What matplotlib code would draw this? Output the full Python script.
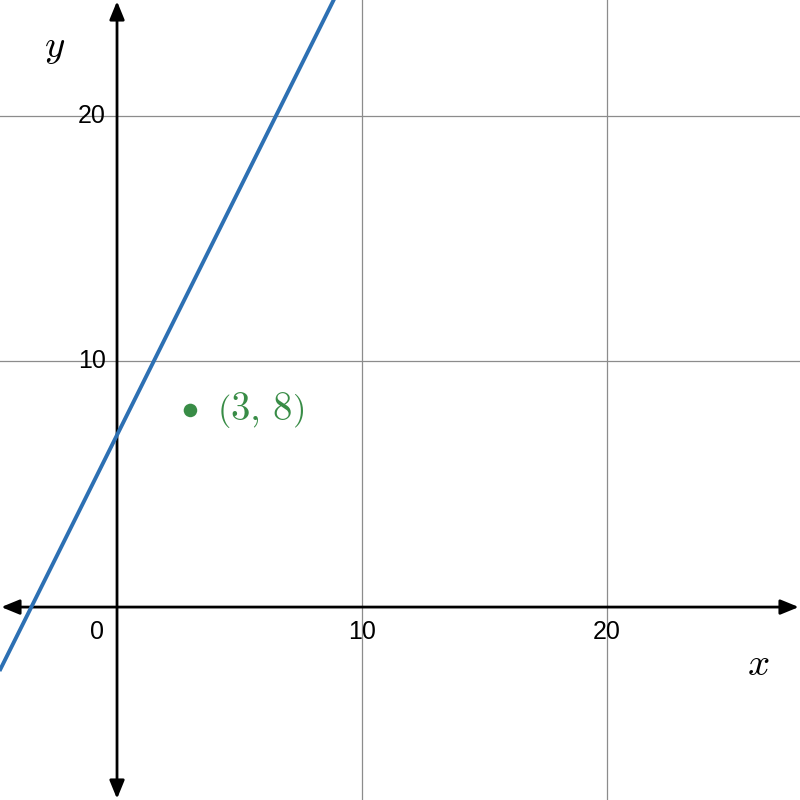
import numpy as np
import matplotlib.pyplot as plt

plt.rcParams['mathtext.fontset'] = 'cm'

# line y = 2x + 7, drawn between two end points
line_x = [-4.8, 9.0]
line_y = [-2.6, 25.0]

pt_x = [3]
pt_y = [8]
pt_label = r'$\left(3,\,8\right)$'

xticks = [0, 10, 20]
yticks = [10, 20]

xmin, xmax = -4.78, 27.9
ymin, ymax = -7.85, 24.7

fig = plt.figure(figsize=(8, 8), dpi=100)
ax = fig.add_axes([0, 0, 1, 1])
ax.set_xlim(xmin, xmax)
ax.set_ylim(ymin, ymax)
ax.axis('off')

# grid
for gx in xticks[1:]:
    ax.axvline(gx, color='#8c8c8c', lw=0.9, zorder=1)
for gy in yticks:
    ax.axhline(gy, color='#8c8c8c', lw=0.9, zorder=1)

# axes with arrows at both ends
arrow = dict(arrowstyle='<|-|>,head_length=1.1,head_width=0.45', color='black',
             lw=2, shrinkA=0, shrinkB=0)
ax.annotate('', xy=(xmax - 0.05, 0), xytext=(xmin + 0.05, 0), arrowprops=arrow, zorder=2)
ax.annotate('', xy=(0, ymax - 0.05), xytext=(0, ymin + 0.05), arrowprops=arrow, zorder=2)

# tick labels
tfont = dict(fontsize=18, family='Liberation Sans', color='black')
ax.text(-0.8, -1.0, '0', ha='center', va='center', **tfont)
for t in xticks[1:]:
    ax.text(t, -1.0, str(t), ha='center', va='center', **tfont)
for t in yticks:
    ax.text(-0.45, t, str(t), ha='right', va='center', **tfont)

# axis names
ax.text(26.2, -2.3, r'$x$', fontsize=28, ha='center', va='center')
ax.text(-2.55, 22.8, r'$y$', fontsize=28, ha='center', va='center')

# line and point
ax.plot(line_x, line_y, color='#2d70b3', lw=2.8, zorder=3, solid_capstyle='butt')
ax.scatter(pt_x, pt_y, s=95, color='#388c46', zorder=4, edgecolors='none')
ax.text(pt_x[0] + 1.1, pt_y[0], pt_label, fontsize=28, color='#388c46',
        ha='left', va='center')

fig.savefig('out.png', dpi=100)
